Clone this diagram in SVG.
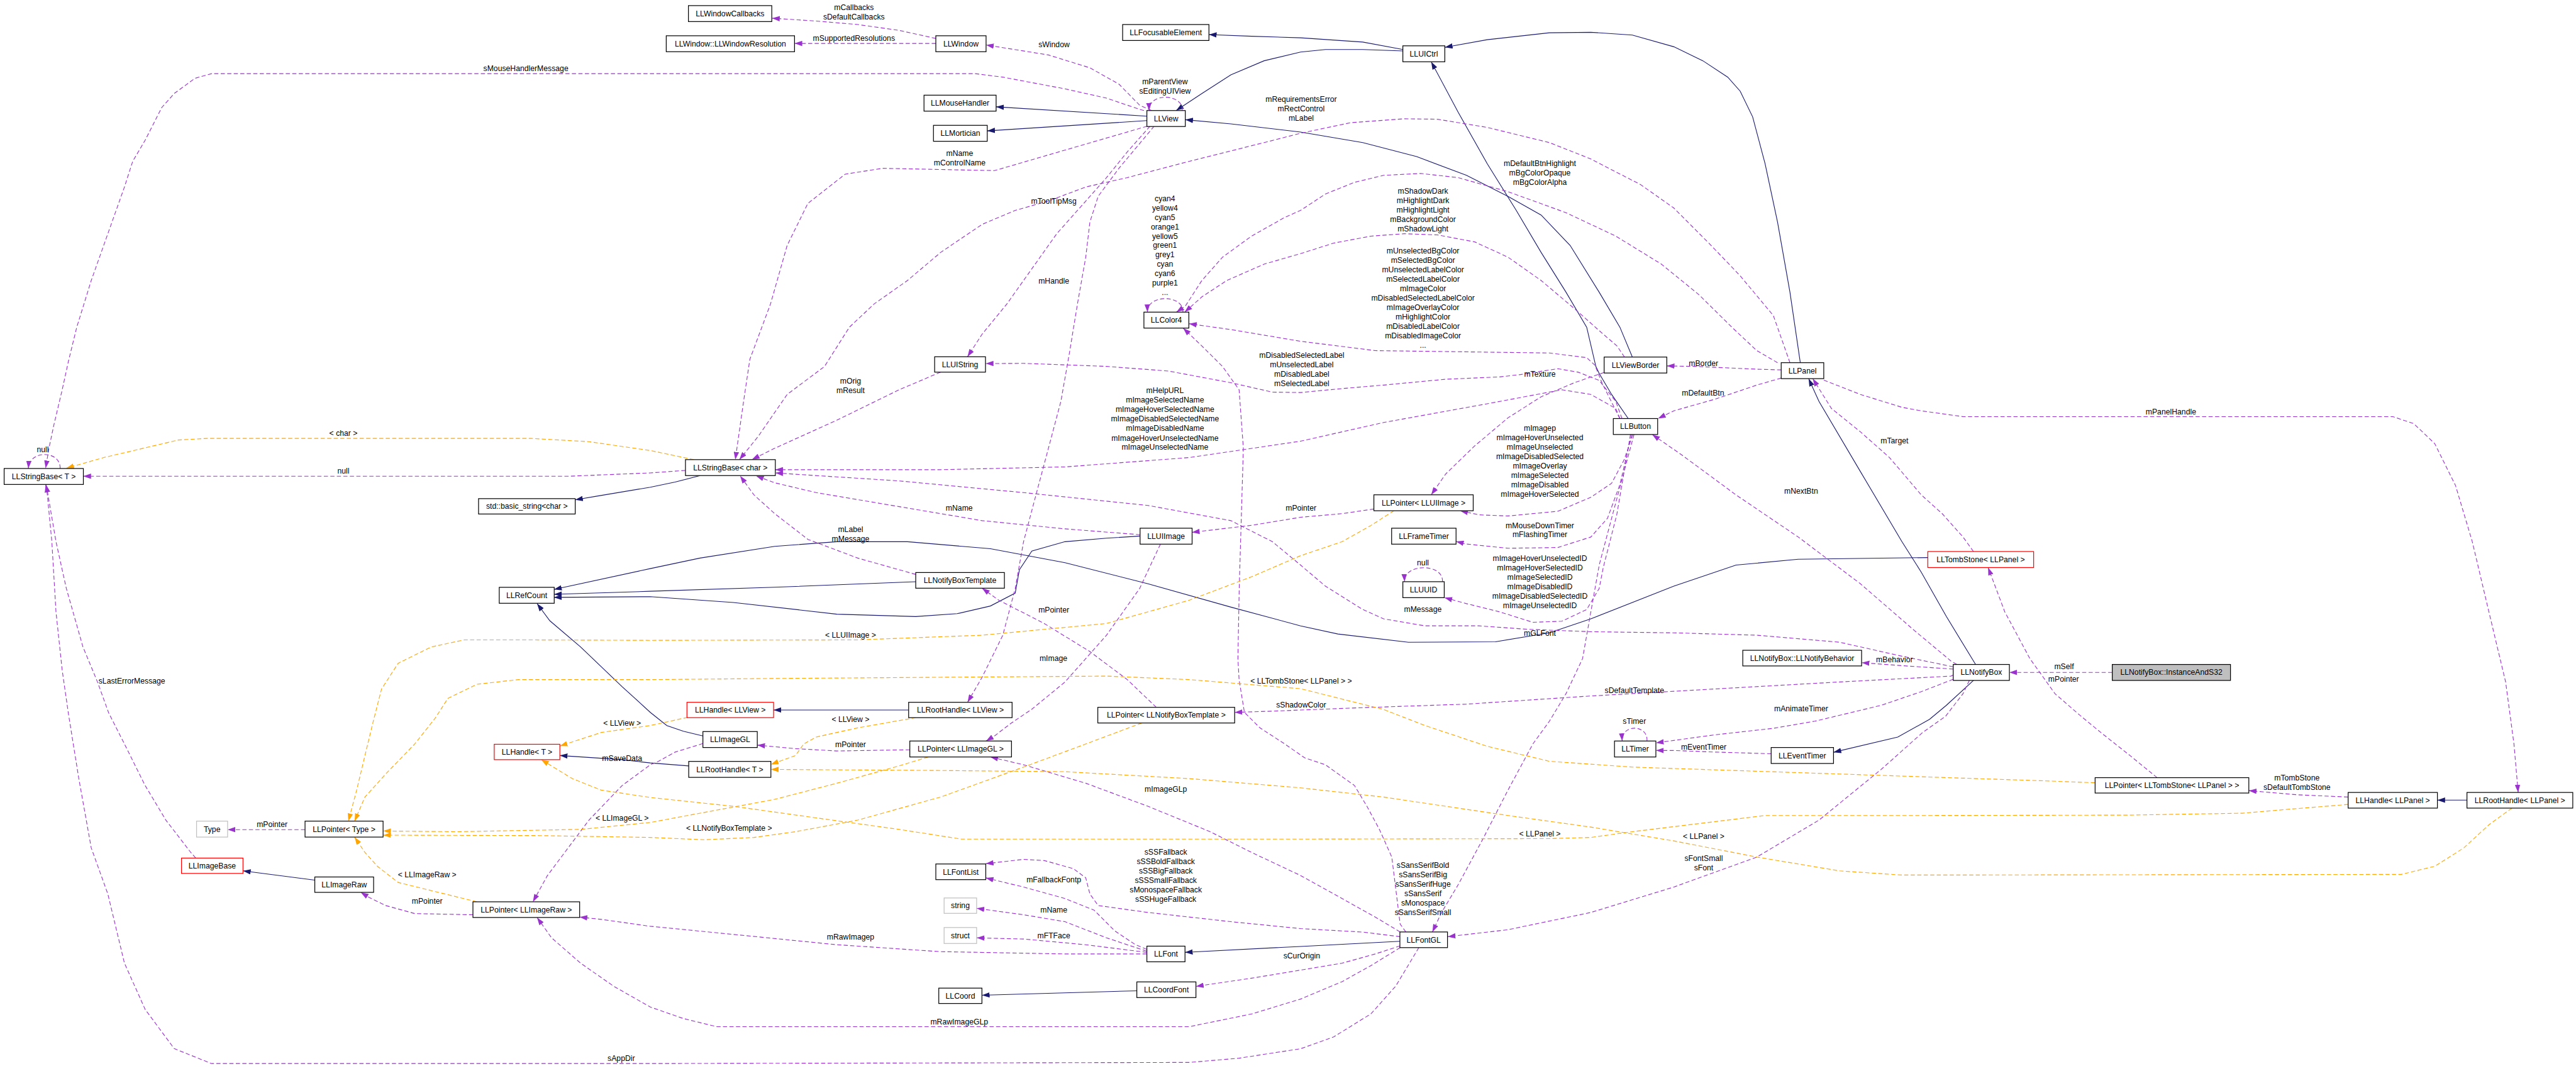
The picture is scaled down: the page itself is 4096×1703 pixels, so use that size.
<svg xmlns="http://www.w3.org/2000/svg" width="4096" height="1703" viewBox="0 0 4096 1703">
<style>
text{font-family:"Liberation Sans",Arial,sans-serif;font-size:13px;text-anchor:middle;fill:#000}
.n rect{fill:#fff;stroke:#000;stroke-width:1.3}
.n.red rect{stroke:#ff0000}
.n.gray rect{stroke:#bfbfbf}
.n.hl rect{fill:#bfbfbf}
.e path{fill:none;stroke-width:1.2}
.e .inh{stroke:#191970;marker-end:url(#an)}
.e .use{stroke:#9a32cd;stroke-dasharray:7,4;marker-end:url(#ap)}
.e .tpl{stroke:#ffa500;stroke-dasharray:7,4;marker-end:url(#ao)}
</style>
<defs>
<marker id="an" markerUnits="userSpaceOnUse" markerWidth="13" markerHeight="9" refX="13" refY="4.5" orient="auto"><path d="M0,0 L13,4.5 L0,9 Z" fill="#191970"/></marker>
<marker id="ap" markerUnits="userSpaceOnUse" markerWidth="13" markerHeight="9" refX="13" refY="4.5" orient="auto"><path d="M0,0 L13,4.5 L0,9 Z" fill="#9a32cd"/></marker>
<marker id="ao" markerUnits="userSpaceOnUse" markerWidth="13" markerHeight="9" refX="13" refY="4.5" orient="auto"><path d="M0,0 L13,4.5 L0,9 Z" fill="#ffa500"/></marker>
</defs>
<rect width="4096" height="1703" fill="#fff"/>
<g transform="scale(0.94)">
<g id="edges" class="e">
<path class="inh" d="M2373.3,83.8 L2305.2,71.2 L2200,64 L2117,61.3 L2045,58.5"/>
<path class="inh" d="M2373.3,86.2 L2305.2,83.8 L2242.1,83.8 L2200,88 L2138.3,102.8 L2082.1,126.5 L2033,158.2 L1989.5,187"/>
<path class="inh" d="M1940,196.5 L1685,180.7"/>
<path class="inh" d="M1940,204 L1670,221.4"/>
<path class="inh" d="M2761.2,604 L2740.2,553.6 L2705.1,494.3 L2656,415.2 L2606.9,363.8 L2550.8,332.1 L2480.6,296.6 L2396.4,264.9 L2305.2,241.2 L2200,223.4 L2082.1,209.6 L2005,202.5"/>
<path class="inh" d="M3045.3,613.5 L3027.8,494.3 L3006.8,375.6 L2985.7,276.8 L2964.7,197.7 L2943.6,154.2 L2922.6,130.5 L2880.5,102.8 L2831.4,79.1 L2761.2,59.3 L2691,54.6 L2620.9,55.4 L2515.7,67.2 L2444.1,80"/>
<path class="inh" d="M2754.2,708 L2726.1,667.2 L2705.1,631.6 L2699.5,620 L2684,553.6 L2649,494.3 L2606.9,427 L2564.8,355.9 L2515.7,276.8 L2466.6,189.8 L2421,104.5"/>
<path class="inh" d="M3341.8,1124 L3292.4,1042.9 L3250,968 L3217.2,916.3 L3147,797.7 L3076.9,679 L3059.4,640.5"/>
<path class="inh" d="M3338.3,1151 L3292.4,1193.1 L3264,1216.8 L3210.2,1246.8 L3101.5,1272.5"/>
<path class="inh" d="M3261.3,943.2 L3041.8,946 L2936.6,955.9 L2831.4,991.5 L2691,1046.8 L2620.9,1070.5 L2529.7,1085.6 L2382.4,1086.4 L2263.1,1072.5 L2200,1058.7 L2082.1,1027 L1941.8,987.5 L1801.5,951.9 L1675.3,928.2 L1535,916.3 L1415.7,916.3 L1310.5,924.2 L1184.2,944 L1100,961.8 L937.2,997"/>
<path class="inh" d="M1549,984 L1310.5,993.4 L1100,1000.2 L937.2,1005.3"/>
<path class="inh" d="M1928.5,906.8 L1871.7,910.4 L1801.5,916.3 L1745.4,932.1 L1724.4,963.8 L1717.3,1003.3 L1675.3,1025.1 L1619.1,1038.1 L1549,1042.9 L1415.7,1038.9 L1240.3,1019.1 L1100,1009.3 L937.2,1010.5"/>
<path class="inh" d="M1189,1245 L1156,1237 L1128,1227.3 L1100,1205 L1052.3,1161.5 L982,1094.3 L930,1050 L908.5,1021"/>
<path class="inh" d="M1184.2,804.5 L1142,815.5 L1100,824.2 L1010,839.2 L973,845.5"/>
<path class="inh" d="M1537,1201 L1308.5,1201"/>
<path class="inh" d="M1165,1295.6 L1100,1290.6 L1052,1285 L947,1278"/>
<path class="inh" d="M532.5,1488.8 L411.1,1473.2"/>
<path class="inh" d="M2368,1592.3 L2200,1601 L2012,1610.6 L2004.5,1611"/>
<path class="inh" d="M1923,1676 L1661,1683.5"/>
<path class="inh" d="M4173,1353.5 L4123,1353.5"/>

<path class="use" d="M1583,65 L1521,51.4 L1451,41.5 L1381,35.6 L1306,30.8"/>
<path class="use" d="M1583,73.5 L1344,73.5"/>
<path class="use" d="M1948,187 L1927.8,178 L1892.7,142.3 L1843.6,114.7 L1773.5,93 L1668,76"/>
<path class="use" d="M2000,187 C2002,158 1942,156 1944,187"/>
<path class="use" d="M1935,187 L1927.8,185 L1871.7,166 L1801.5,150.3 L1696.3,130.5 L1649.8,124.6 L1100,124.6 L357.8,124.6 L329.7,132.5 L294.6,158.2 L273.6,181.9 L245.5,237.2 L224.5,272.8 L210.5,316.3 L182.4,395.4 L154.3,474.5 L129.8,553.6 L115.8,610.9 L105.2,659.3 L91.2,718.6 L82.8,758.2 L77.2,792"/>
<path class="use" d="M101.7,792.5 C103,762 50,760 48,792.5"/>
<path class="use" d="M1159.5,795.7 L1100,800 L961,805.6 L141,805.6"/>
<path class="use" d="M1940.4,213.5 L1682.3,288.6 L1492.9,284.7 L1429.7,294.6 L1366.6,344 L1331.5,415.2 L1303.4,514 L1268.4,607.9 L1257.8,679.1 L1243.8,777.5"/>
<path class="use" d="M3027.8,613.5 L2999.7,533.8 L2943.6,466.6 L2894.5,415.2 L2831.4,351.9 L2775.3,312.4 L2691,268.9 L2620.9,241.2 L2515.7,215.5 L2431.5,201.7 L2375.4,200.9 L2284.2,207.6 L2200,225.4 L2138.3,241.2 L2011.9,272.8 L1906.7,300.5 L1836.6,316.3 L1773.5,340 L1717.3,355.9 L1661.2,379.6 L1591.1,427 L1535,474.5 L1478.8,514 L1436.7,553.6 L1394.6,620 L1331.5,667.2 L1282.4,738.4 L1250.8,777.5"/>
<path class="use" d="M3006.8,613.5 L2971.7,593.1 L2929.6,553.6 L2873.5,498.2 L2810.3,446.8 L2733.2,399.4 L2649,359.8 L2550.8,324.2 L2466.6,300.5 L2403.4,293.4 L2340.3,296.6 L2291.2,308.4 L2242,328.2 L2200,355.9 L2173.3,367.7 L2117,399.4 L2068,435 L2033,474.5 L2004.9,518 L1990,528"/>
<path class="use" d="M2748,604 L2735,585 L2712.1,565.4 L2663,521.9 L2606.9,474.5 L2550.8,435 L2494.6,409.2 L2431.5,397.4 L2375.4,395.4 L2319.3,399.4 L2256.1,411.2 L2200,429 L2138.3,446.8 L2075.1,474.5 L2033,502.2 L2004,528"/>
<path class="use" d="M2001,528 C2003,498 1940,497 1941,528"/>
<path class="use" d="M2740,708 L2726,680 L2710,648 L2698,618 L2684,605 L2620.9,597.1 L2326.3,593.1 L2200,577.3 L2082.1,557.5 L2011.3,547.6"/>
<path class="use" d="M2378,1576.5 L2368.4,1563 L2354.3,1449.8 L2333.3,1403 L2312.2,1363.9 L2291.2,1328.8 L2242,1293.7 L2207,1282 L2173.3,1258.5 L2131.2,1231.2 L2105,1205 L2096,1150 L2094,1114 L2096.2,995.4 L2099.7,876.8 L2103.2,758.2 L2096,659.3 L2068,620 L2033,585.2 L2001.4,555"/>
<path class="use" d="M2743.7,708 L2733.2,679.1 L2705.1,643.5 L2670,629.7 L2635,623.7 L2571.8,633.6 L2536.7,637.6 L2445.5,641.5 L2340.3,651.4 L2270.2,657.3 L2200,664 L2152.3,663.3 L2082.1,647.4 L1976.9,627.7 L1871.7,619.8 L1731.4,614.6 L1667.5,615"/>
<path class="use" d="M1591,629.5 L1520.9,659.3 L1415.7,710.7 L1310.5,758.2 L1271.9,777.5"/>
<path class="use" d="M1945.3,213.5 L1906.8,257 L1871.7,300.5 L1829.6,348 L1787.5,395.4 L1745.4,454.7 L1703.3,514 L1661.2,565.4 L1636.6,603.5"/>
<path class="use" d="M1952.3,213.5 L1892.7,284.7 L1857.6,332.1 L1843.6,375.6 L1836.6,435 L1822.6,514 L1808.5,600 L1794.5,679.1 L1773.5,758.2 L1752.4,837.2 L1731.4,916.3 L1717.3,995.4 L1696.3,1074.5 L1661.2,1145.7 L1636.7,1188"/>
<path class="use" d="M2740.2,708 L2733.2,691 L2691,667.2 L2642,659.3 L2515.7,683 L2340.3,714.7 L2200,746.3 L2011.7,774 L1801.5,789.8 L1591,794.5 L1311.5,794.5"/>
<path class="use" d="M3304,1128 L3217,1110 L3112,1086.4 L2971.7,1074.5 L2831.4,1070.5 L2691,1068.6 L2585.8,1064.6 L2501.7,1058.7 L2410.5,1058.7 L2340.3,1046.8 L2305.2,1031 L2242,991.5 L2200,955.9 L2152.3,916.3 L2082,880.7 L1941.8,855 L1731.4,833.3 L1521,813.5 L1311.5,800"/>
<path class="use" d="M1928.5,904.5 L1801.5,894.6 L1661.2,880.7 L1521,857 L1380.6,833.3 L1310.5,816.7 L1279,805"/>
<path class="use" d="M1549,971.7 L1450.8,944 L1366.6,912.4 L1310.5,868.9 L1275.4,837.2 L1252,805"/>
<path class="use" d="M2713.5,630 L2663,647.4 L2606.9,671.2 L2550.8,706.8 L2494.6,754.2 L2445.5,801.7 L2421,837"/>
<path class="use" d="M2762,735 L2747.2,778 L2726.1,817.5 L2691,841.2 L2635,864.9 L2550.8,872.8 L2501.7,870.9 L2470,864"/>
<path class="use" d="M2760,735 L2740,820 L2719.1,876.8 L2691,908.4 L2635,926.2 L2550.8,927.4 L2480.6,920.3 L2463,916"/>
<path class="use" d="M2758,735 L2735,870 L2712,960 L2705.1,995.4 L2684,1031 L2642,1050.8 L2592.9,1052.7 L2536.7,1035 L2480.6,1021.1 L2443.5,1011"/>
<path class="use" d="M2764,735 L2747.2,797.7 L2726.1,876.8 L2705.1,955.9 L2691,1035 L2677,1114 L2649,1173.3 L2620.9,1220 L2592.9,1258.5 L2550.8,1336.6 L2508.7,1418.6 L2466.6,1496.6 L2438.5,1543.5 L2423,1576.5"/>
<path class="use" d="M3013,625.7 L2971.7,624.5 L2866.4,619.8 L2819.5,619"/>
<path class="use" d="M3013,639.5 L2971.7,651.4 L2901.5,675.1 L2831.4,694.9 L2804.7,708"/>
<path class="use" d="M3338.2,933 L3320.6,908.4 L3285.3,868.9 L3250,837.2 L3196.2,774 L3147,730.5 L3098,691 L3066.4,640.5"/>
<path class="use" d="M3085,643 L3147,667.2 L3217.2,689 L3250,695 L3320.6,704.8 L4047.8,704.8 L4083,716.6 L4118.4,750.3 L4153.7,821.4 L4182,916.3 L4210.1,1035 L4238.4,1153.6 L4252.5,1258.5 L4259.6,1340.5"/>
<path class="use" d="M3310,1124 L3300,1118 L3238.3,1066.6 L3147,987.5 L3041.8,908.4 L2936.6,837.2 L2845.4,770 L2794.9,735"/>
<path class="use" d="M3304,1131.8 L3217,1126 L3149.2,1121"/>
<path class="use" d="M3304,1141.7 L3300,1143.7 L3112,1153.6 L2901.5,1165.4 L2691,1177.3 L2480.6,1191.1 L2305.2,1197.1 L2200,1201 L2152.3,1203 L2088.5,1205"/>
<path class="use" d="M3304,1149 L3250,1170 L3182.1,1193.1 L3069.9,1220 L3000,1232 L2901.5,1242.9 L2801.2,1256.6"/>
<path class="use" d="M2786,1253.5 C2788,1225 2742,1224 2744,1253.5"/>
<path class="use" d="M2996.2,1275 L2901.5,1272.2 L2831.4,1269.5 L2801.2,1269.5"/>
<path class="use" d="M3573,1137.5 L3399,1137.5"/>
<path class="use" d="M3648.9,1315.5 L3603,1278.1 L3553.6,1239 L3518.3,1210 L3476,1173.3 L3433.6,1114 L3391.2,1035 L3363,960"/>
<path class="use" d="M3972,1348.3 L3885.4,1344.4 L3804,1337.4"/>
<path class="use" d="M3331.2,1151 L3320.6,1173.3 L3291,1211.7 L3252.3,1239 L3182.1,1301.5 L3076.9,1387.3 L2971.7,1449.8 L2831.4,1500.5 L2691,1543.5 L2550.8,1572.7 L2449,1584.5"/>
<path class="use" d="M2440,984 C2442,952 2374,953 2376,984"/>
<path class="use" d="M2324,861 L2270,868.9 L2200,875 L2117.2,888.6 L2016.2,900.5"/>
<path class="use" d="M1955.9,1196.5 L1906.8,1149.6 L1843.6,1102.2 L1766.4,1054.7 L1689.3,1015.2 L1661.2,995"/>
<path class="use" d="M1962.9,920.5 L1927.8,995.4 L1871.7,1074.5 L1801.5,1153.6 L1745,1200 L1710.3,1223.4 L1682.3,1244.9 L1668,1253.5"/>
<path class="use" d="M1539,1268.3 L1415.7,1270.3 L1345.5,1266.4 L1281,1260.5"/>
<path class="use" d="M1189,1257.8 L1142,1272.2 L1114,1287.8 L1100,1293.7 L1052.3,1328.8 L996.2,1387.3 L961.1,1434.2 L926,1481 L901.5,1525.5"/>
<path class="use" d="M2368.4,1576.5 L2326.3,1551.3 L2270.2,1520 L2200,1481 L2117.2,1442 L2047,1406.9 L1941.8,1363.9 L1836.6,1324.9 L1731.4,1293.7 L1675.3,1280.5"/>
<path class="use" d="M516,1403.4 L385,1403.4"/>
<path class="use" d="M800.4,1547.4 L701.5,1545.4 L652.4,1531.8 L624.4,1518.1 L610.3,1509.5"/>
<path class="use" d="M1939.7,1613.7 L1801.5,1613.7 L1591,1609.8 L1415.7,1598.1 L1240.3,1580.6 L1100,1566.9 L1017.2,1555.2 L980.5,1551.3"/>
<path class="use" d="M2368.4,1603 L2319.3,1633.2 L2270.2,1660.6 L2200,1690 L2117.2,1715.2 L2012,1736.7 L1212.2,1736.7 L1156.1,1723 L1100,1703.5 L1038.3,1668.4 L982.1,1629.3 L933,1586.4 L908.5,1552"/>
<path class="use" d="M1939.7,1605.9 L1920.8,1598.1 L1885.7,1574.7 L1850.7,1539.6 L1801.5,1520 L1731.4,1500.5 L1667.5,1485"/>
<path class="use" d="M2368.4,1584.5 L2305.2,1576.7 L2200,1570.8 L2082.1,1559.1 L1941.8,1543.5 L1857.6,1531.8 L1843.6,1512.2 L1836.6,1484.9 L1815.5,1469.3 L1766.4,1455.7 L1731.4,1453.7 L1667.5,1461"/>
<path class="use" d="M1939.7,1609 L1871.7,1586.4 L1801.5,1559.1 L1731.4,1547.4 L1652,1536.5"/>
<path class="use" d="M1939.7,1611 L1836.6,1598.1 L1731.4,1588.4 L1652,1586.5"/>
<path class="use" d="M2368.4,1600 L2326.3,1613.7 L2270.2,1629.3 L2200,1641 L2117.2,1654.7 L2023,1668.5"/>
<path class="use" d="M2400,1603 L2361,1668 L2319,1715 L2256,1754 L2200,1774 L2096,1790 L2012,1797.2 L1100,1799.1 L357.8,1799.1 L294.6,1773.8 L245.5,1707.4 L210.5,1629.3 L182.4,1512.2 L154.3,1434.2 L133.3,1317 L115.8,1207.8 L105.2,1133.8 L94.7,1035 L87.7,916.3 L79.3,829.3 L77.2,820"/>
<path class="use" d="M331.1,1451.5 L322.7,1442 L280.6,1387.3 L245.5,1328.8 L210.5,1258.5 L183.8,1205.9 L164.9,1153.6 L140.3,1094.3 L112.2,995.4 L94.7,916.3 L80,830 L78,820"/>

<path class="tpl" d="M1173.6,777.5 L1100,762.1 L996.1,747.1 L898,741.6 L350.8,741.6 L301.7,744.3 L175.4,774 L112.2,792"/>
<path class="tpl" d="M2357.8,864 L2319.3,888.7 L2270.2,916.3 L2200,940 L2117.2,975.6 L2012,1015.2 L1871.7,1054.7 L1661.2,1074.5 L1450.8,1082.4 L1100,1083.2 L876.9,1082.4 L785.7,1082.4 L729.6,1094.3 L673.5,1122 L645.4,1165.5 L631.4,1220 L617.3,1278.1 L603.3,1336.6 L589.3,1389"/>
<path class="tpl" d="M3543.7,1324.1 L3461.8,1321 L3320.6,1316.3 L3112,1309.3 L2901.5,1302.3 L2761.2,1297.6 L2620.9,1287.8 L2515.7,1262.4 L2410.5,1227.3 L2340,1200 L2200,1165 L2012,1149.6 L1871.7,1143.7 L1591,1145.7 L1310.5,1147.7 L1100,1149.6 L876.9,1149.6 L806.8,1157.5 L757.7,1181.3 L736,1215 L701.5,1258.5 L652.4,1309.3 L617.3,1348.3 L599.8,1389"/>
<path class="tpl" d="M1931.3,1223 L1836.6,1258.5 L1731.4,1297.6 L1591,1348.3 L1450.8,1387.3 L1345.5,1406.9 L1275.4,1416.6 L1191.2,1420.5 L1100,1416.6 L912,1413.5 L648.2,1412.7"/>
<path class="tpl" d="M1570,1280.5 L1520.9,1295.6 L1415.7,1324.9 L1310.5,1352.2 L1205.2,1371.7 L1100,1391.3 L982.1,1403 L771.7,1406.9 L648.2,1405.7"/>
<path class="tpl" d="M806.8,1525.5 L736.6,1508.3 L673.5,1492.7 L638.4,1465.4 L617.3,1442 L599.8,1416"/>
<path class="tpl" d="M1549,1214 L1450.8,1231.2 L1380.6,1246.8 L1359.6,1258.5 L1345.5,1278.1 L1304,1293"/>
<path class="tpl" d="M1163,1213.5 L1100,1227.3 L1017.2,1239 L947,1262"/>
<path class="tpl" d="M3972.2,1360.8 L3885.4,1367.8 L3793.6,1375.6 L3603,1378.8 L3250,1379.5 L2985.7,1379.5 L2761.2,1406.9 L2691,1416.6 L2620.9,1418.6 L2200,1419.4 L1626.1,1419.4 L1520.9,1403 L1380.6,1383.5 L1240.3,1363.9 L1100,1349 L1017.2,1336.6 L968.1,1317.1 L915.5,1285"/>
<path class="tpl" d="M4249,1367 L4210.1,1395.2 L4167.8,1434.2 L4118.4,1465.4 L4061.9,1479.1 L3300,1480.2 L3217.2,1480.2 L3112,1473.2 L2971.7,1449.8 L2831.4,1422.5 L2691,1399.1 L2550.8,1379.5 L2340.3,1348.3 L2200,1332.7 L2012,1317.1 L1801.5,1305.4 L1591,1303.4 L1304,1301.5"/>
</g>

<g id="edge-labels">
<text x="1444.5" y="17.3">mCallbacks</text>
<text x="1444.5" y="33">sDefaultCallbacks</text>
<text x="1444.5" y="69">mSupportedResolutions</text>
<text x="1783" y="80">sWindow</text>
<text x="1970.6" y="142.9">mParentView</text>
<text x="1970.6" y="158.7">sEditingUIView</text>
<text x="889.5" y="120.4">sMouseHandlerMessage</text>
<text x="2201" y="172.5">mRequirementsError</text>
<text x="2201" y="188.4">mRectControl</text>
<text x="2201" y="204.2">mLabel</text>
<text x="1623.3" y="263.5">mName</text>
<text x="1623.3" y="279.3">mControlName</text>
<text x="1782.6" y="344.5">mToolTipMsg</text>
<text x="1782.6" y="480.2">mHandle</text>
<text x="2604.8" y="281.3">mDefaultBtnHighlight</text>
<text x="2604.8" y="297.1">mBgColorOpaque</text>
<text x="2604.8" y="312.9">mBgColorAlpha</text>
<text x="2407" y="327.5">mShadowDark</text>
<text x="2407" y="343.4">mHighlightDark</text>
<text x="2407" y="359.6">mHighlightLight</text>
<text x="2407" y="375.4">mBackgroundColor</text>
<text x="2407" y="391.2">mShadowLight</text>
<text x="2407" y="428.4">mUnselectedBgColor</text>
<text x="2407" y="444.2">mSelectedBgColor</text>
<text x="2407" y="460.4">mUnselectedLabelColor</text>
<text x="2407" y="476.2">mSelectedLabelColor</text>
<text x="2407" y="492.4">mImageColor</text>
<text x="2407" y="508.3">mDisabledSelectedLabelColor</text>
<text x="2407" y="524.5">mImageOverlayColor</text>
<text x="2407" y="540.3">mHighlightColor</text>
<text x="2407" y="556.1">mDisabledLabelColor</text>
<text x="2407" y="572.3">mDisabledImageColor</text>
<text x="2407" y="588.5">...</text>
<text x="1970.6" y="340.6">cyan4</text>
<text x="1970.6" y="356.4">yellow4</text>
<text x="1970.6" y="372.2">cyan5</text>
<text x="1970.6" y="388">orange1</text>
<text x="1970.6" y="403.8">yellow5</text>
<text x="1970.6" y="419.6">green1</text>
<text x="1970.6" y="435.4">grey1</text>
<text x="1970.6" y="451.2">cyan</text>
<text x="1970.6" y="467">cyan6</text>
<text x="1970.6" y="482.8">purple1</text>
<text x="1970.6" y="498.6">...</text>
<text x="2202" y="605.5">mDisabledSelectedLabel</text>
<text x="2202" y="621.3">mUnselectedLabel</text>
<text x="2202" y="637.1">mDisabledLabel</text>
<text x="2202" y="652.9">mSelectedLabel</text>
<text x="2604.8" y="637.3">mTexture</text>
<text x="2881.6" y="619.5">mBorder</text>
<text x="2880.7" y="669">mDefaultBtn</text>
<text x="1438.8" y="649.2">mOrig</text>
<text x="1438.8" y="665">mResult</text>
<text x="1970.6" y="665">mHelpURL</text>
<text x="1970.6" y="681.2">mImageSelectedName</text>
<text x="1970.6" y="697">mImageHoverSelectedName</text>
<text x="1970.6" y="712.8">mImageDisabledSelectedName</text>
<text x="1970.6" y="729.1">mImageDisabledName</text>
<text x="1970.6" y="745.3">mImageHoverUnselectedName</text>
<text x="1970.6" y="761.1">mImageUnselectedName</text>
<text x="2604.8" y="728.3">mImagep</text>
<text x="2604.8" y="744.5">mImageHoverUnselected</text>
<text x="2604.8" y="760.3">mImageUnselected</text>
<text x="2604.8" y="776.5">mImageDisabledSelected</text>
<text x="2604.8" y="792.3">mImageOverlay</text>
<text x="2604.8" y="808.5">mImageSelected</text>
<text x="2604.8" y="824.3">mImageDisabled</text>
<text x="2604.8" y="840.2">mImageHoverSelected</text>
<text x="3204.6" y="749.6">mTarget</text>
<text x="3672.2" y="701">mPanelHandle</text>
<text x="580.9" y="737.4">&lt; char &gt;</text>
<text x="580.9" y="801">null</text>
<text x="72.3" y="764.6">null</text>
<text x="3046.7" y="835">mNextBtn</text>
<text x="1622.6" y="864.3">mName</text>
<text x="2200.7" y="864.3">mPointer</text>
<text x="2604.8" y="893.1">mMouseDownTimer</text>
<text x="2604.8" y="909">mFlashingTimer</text>
<text x="1438.8" y="900.3">mLabel</text>
<text x="1438.8" y="916.1">mMessage</text>
<text x="2407" y="956">null</text>
<text x="2604.8" y="948.5">mImageHoverUnselectedID</text>
<text x="2604.8" y="964.5">mImageHoverSelectedID</text>
<text x="2604.8" y="980.5">mImageSelectedID</text>
<text x="2604.8" y="996.5">mImageDisabledID</text>
<text x="2604.8" y="1012.5">mImageDisabledSelectedID</text>
<text x="2604.8" y="1028.4">mImageUnselectedID</text>
<text x="2406.8" y="1035.6">mMessage</text>
<text x="1782.6" y="1036.3">mPointer</text>
<text x="2604.8" y="1075">mGLFont</text>
<text x="1438.8" y="1079">&lt; LLUIImage &gt;</text>
<text x="1781.9" y="1117.7">mImage</text>
<text x="3204.6" y="1120.5">mBehavior</text>
<text x="3491.5" y="1132.4">mSelf</text>
<text x="3490.7" y="1152.9">mPointer</text>
<text x="2201" y="1156.1">&lt; LLTombStone&lt; LLPanel &gt; &gt;</text>
<text x="2764.7" y="1172.3">sDefaultTemplate</text>
<text x="2201" y="1196.5">sShadowColor</text>
<text x="3046.7" y="1203.5">mAnimateTimer</text>
<text x="1438.8" y="1221.3">&lt; LLView &gt;</text>
<text x="1052.3" y="1227.9">&lt; LLView &gt;</text>
<text x="2764.7" y="1224.8">sTimer</text>
<text x="1438.8" y="1264.2">mPointer</text>
<text x="2881.9" y="1267.7">mEventTimer</text>
<text x="1052.3" y="1287.6">mSaveData</text>
<text x="3885.4" y="1320.4">mTombStone</text>
<text x="3885.4" y="1336.4">sDefaultTombStone</text>
<text x="1972" y="1339.2">mImageGLp</text>
<text x="1052.3" y="1388.7">&lt; LLImageGL &gt;</text>
<text x="460.2" y="1398.9">mPointer</text>
<text x="1233.3" y="1405.5">&lt; LLNotifyBoxTemplate &gt;</text>
<text x="2604.8" y="1415.3">&lt; LLPanel &gt;</text>
<text x="2881.9" y="1419.5">&lt; LLPanel &gt;</text>
<text x="1972" y="1445.3">sSSFallback</text>
<text x="1972" y="1461.3">sSSBoldFallback</text>
<text x="1972" y="1477.3">sSSBigFallback</text>
<text x="1972" y="1493.3">sSSSmallFallback</text>
<text x="1972" y="1509.3">sMonospaceFallback</text>
<text x="1972" y="1525.3">sSSHugeFallback</text>
<text x="2881.9" y="1456.2">sFontSmall</text>
<text x="2881.9" y="1472.3">sFont</text>
<text x="2407" y="1468.4">sSansSerifBold</text>
<text x="2407" y="1484.4">sSansSerifBig</text>
<text x="2407" y="1500.4">sSansSerifHuge</text>
<text x="2407" y="1516.4">sSansSerif</text>
<text x="2407" y="1532.4">sMonospace</text>
<text x="2407" y="1548.4">sSansSerifSmall</text>
<text x="722.6" y="1483.6">&lt; LLImageRaw &gt;</text>
<text x="1782.6" y="1492.2">mFallbackFontp</text>
<text x="1782.6" y="1544.1">mName</text>
<text x="722.6" y="1529.2">mPointer</text>
<text x="1782.6" y="1587.4">mFTFace</text>
<text x="1438.8" y="1589.7">mRawImagep</text>
<text x="2202" y="1621.4">sCurOrigin</text>
<text x="1622.6" y="1733.4">mRawImageGLp</text>
<text x="223.1" y="1156.1">sLastErrorMessage</text>
<text x="1050.9" y="1795">sAppDir</text>
</g>

<g id="n_LLWindowCallbacks" class="n"><rect x="1164.5" y="9.5" width="141" height="27"/><text x="1235" y="27.5">LLWindowCallbacks</text></g>
<g id="n_LLWindowResolution" class="n"><rect x="1127" y="60.5" width="217" height="27"/><text x="1235.5" y="78.5">LLWindow::LLWindowResolution</text></g>
<g id="n_LLWindow" class="n"><rect x="1583" y="60.5" width="85" height="27"/><text x="1625.5" y="78.5">LLWindow</text></g>
<g id="n_LLFocusableElement" class="n"><rect x="1899" y="41.5" width="146" height="27"/><text x="1972" y="59.5">LLFocusableElement</text></g>
<g id="n_LLMouseHandler" class="n"><rect x="1563" y="161" width="122" height="27"/><text x="1624" y="179">LLMouseHandler</text></g>
<g id="n_LLMortician" class="n"><rect x="1579" y="212" width="91" height="27"/><text x="1624.5" y="230">LLMortician</text></g>
<g id="n_LLView" class="n"><rect x="1940" y="187" width="65" height="27"/><text x="1972.5" y="205">LLView</text></g>
<g id="n_LLUICtrl" class="n"><rect x="2373" y="77.5" width="71" height="27"/><text x="2408.5" y="95.5">LLUICtrl</text></g>
<g id="n_LLColor4" class="n"><rect x="1935" y="528" width="76" height="27"/><text x="1973" y="546">LLColor4</text></g>
<g id="n_LLUIString" class="n"><rect x="1581" y="603.5" width="86" height="26"/><text x="1624" y="621">LLUIString</text></g>
<g id="n_LLViewBorder" class="n"><rect x="2713.5" y="604" width="106" height="27"/><text x="2766.5" y="622">LLViewBorder</text></g>
<g id="n_LLPanel" class="n"><rect x="3013" y="613.5" width="72" height="27"/><text x="3049" y="631.5">LLPanel</text></g>
<g id="n_LLButton" class="n"><rect x="2729" y="708" width="75" height="27"/><text x="2766.5" y="726">LLButton</text></g>
<g id="n_LLStringBaseT" class="n"><rect x="7" y="792.5" width="134" height="27"/><text x="74" y="810.5">LLStringBase&lt; T &gt;</text></g>
<g id="n_LLStringBaseChar" class="n"><rect x="1159.5" y="777.5" width="152" height="27"/><text x="1235.5" y="795.5">LLStringBase&lt; char &gt;</text></g>
<g id="n_basic_string" class="n"><rect x="809.5" y="843.5" width="163.5" height="26"/><text x="891.25" y="861">std::basic_string&lt;char &gt;</text></g>
<g id="n_LLPointerUIImage" class="n"><rect x="2324" y="837" width="168" height="27"/><text x="2408" y="855">LLPointer&lt; LLUIImage &gt;</text></g>
<g id="n_LLUIImage" class="n"><rect x="1928.5" y="893.5" width="88" height="27"/><text x="1972.5" y="911.5">LLUIImage</text></g>
<g id="n_LLFrameTimer" class="n"><rect x="2354" y="893.5" width="109" height="27"/><text x="2408.5" y="911.5">LLFrameTimer</text></g>
<g id="n_LLTombStone" class="n red"><rect x="3261" y="933" width="179" height="27"/><text x="3350.5" y="951">LLTombStone&lt; LLPanel &gt;</text></g>
<g id="n_LLNotifyBoxTemplate" class="n"><rect x="1549" y="968.5" width="150" height="26.5"/><text x="1624" y="986.3">LLNotifyBoxTemplate</text></g>
<g id="n_LLUUID" class="n"><rect x="2373" y="984" width="70" height="27"/><text x="2408" y="1002">LLUUID</text></g>
<g id="n_LLRefCount" class="n"><rect x="844.5" y="993.5" width="93" height="27"/><text x="891" y="1011.5">LLRefCount</text></g>
<g id="n_LLNotifyBehavior" class="n"><rect x="2948" y="1100" width="201" height="26.5"/><text x="3048.5" y="1117.8">LLNotifyBox::LLNotifyBehavior</text></g>
<g id="n_LLNotifyBox" class="n"><rect x="3304" y="1124" width="95" height="27"/><text x="3351.5" y="1142">LLNotifyBox</text></g>
<g id="n_InstanceAndS32" class="n hl"><rect x="3573" y="1124" width="200" height="27"/><text x="3673" y="1142">LLNotifyBox::InstanceAndS32</text></g>
<g id="n_LLHandleLLView" class="n red"><rect x="1162" y="1188" width="146.5" height="26"/><text x="1235.25" y="1205.5">LLHandle&lt; LLView &gt;</text></g>
<g id="n_LLRootHandleLLView" class="n"><rect x="1537" y="1188" width="175" height="26"/><text x="1624.5" y="1205.5">LLRootHandle&lt; LLView &gt;</text></g>
<g id="n_LLPointerNBT" class="n"><rect x="1857" y="1196.5" width="231.5" height="26.5"/><text x="1972.75" y="1214.3">LLPointer&lt; LLNotifyBoxTemplate &gt;</text></g>
<g id="n_LLImageGL" class="n"><rect x="1189" y="1237.5" width="92" height="27"/><text x="1235" y="1255.5">LLImageGL</text></g>
<g id="n_LLPointerImageGL" class="n"><rect x="1539" y="1253.5" width="172" height="27"/><text x="1625" y="1271.5">LLPointer&lt; LLImageGL &gt;</text></g>
<g id="n_LLTimer" class="n"><rect x="2731" y="1253.5" width="70" height="27"/><text x="2766" y="1271.5">LLTimer</text></g>
<g id="n_LLEventTimer" class="n"><rect x="2996" y="1264.5" width="105.5" height="27"/><text x="3048.75" y="1282.5">LLEventTimer</text></g>
<g id="n_LLHandleT" class="n red"><rect x="836" y="1259" width="111" height="26"/><text x="891.5" y="1276.5">LLHandle&lt; T &gt;</text></g>
<g id="n_LLRootHandleT" class="n"><rect x="1165" y="1288" width="139" height="27"/><text x="1234.5" y="1306">LLRootHandle&lt; T &gt;</text></g>
<g id="n_LLPointerTombStone" class="n"><rect x="3544" y="1315.5" width="260" height="26"/><text x="3674" y="1333">LLPointer&lt; LLTombStone&lt; LLPanel &gt; &gt;</text></g>
<g id="n_LLHandleLLPanel" class="n"><rect x="3972" y="1340.5" width="151" height="26.5"/><text x="4047.5" y="1358.3">LLHandle&lt; LLPanel &gt;</text></g>
<g id="n_LLRootHandleLLPanel" class="n"><rect x="4173" y="1340.5" width="179" height="26.5"/><text x="4262.5" y="1358.3">LLRootHandle&lt; LLPanel &gt;</text></g>
<g id="n_Type" class="n gray"><rect x="332.5" y="1389" width="52.5" height="27"/><text x="358.75" y="1407">Type</text></g>
<g id="n_LLPointerType" class="n"><rect x="516" y="1389" width="132" height="27"/><text x="582" y="1407">LLPointer&lt; Type &gt;</text></g>
<g id="n_LLImageBase" class="n red"><rect x="307" y="1451.5" width="104" height="26"/><text x="359" y="1469">LLImageBase</text></g>
<g id="n_LLImageRaw" class="n"><rect x="532.5" y="1483.5" width="99.5" height="26"/><text x="582.25" y="1501">LLImageRaw</text></g>
<g id="n_LLPointerImageRaw" class="n"><rect x="800" y="1525.5" width="180.5" height="26.5"/><text x="890.25" y="1543.3">LLPointer&lt; LLImageRaw &gt;</text></g>
<g id="n_LLFontList" class="n"><rect x="1583" y="1461.5" width="84.5" height="26.5"/><text x="1625.25" y="1479.3">LLFontList</text></g>
<g id="n_string" class="n gray"><rect x="1597" y="1519" width="55" height="26"/><text x="1624.5" y="1536.5">string</text></g>
<g id="n_struct" class="n gray"><rect x="1597" y="1569" width="55" height="27"/><text x="1624.5" y="1587">struct</text></g>
<g id="n_LLFont" class="n"><rect x="1940" y="1600.5" width="64.5" height="26.5"/><text x="1972.25" y="1618.3">LLFont</text></g>
<g id="n_LLFontGL" class="n"><rect x="2368" y="1576.5" width="80.5" height="26.5"/><text x="2408.25" y="1594.3">LLFontGL</text></g>
<g id="n_LLCoordFont" class="n"><rect x="1923" y="1661" width="100" height="26.5"/><text x="1973" y="1678.8">LLCoordFont</text></g>
<g id="n_LLCoord" class="n"><rect x="1588" y="1671.5" width="73" height="26"/><text x="1624.5" y="1689">LLCoord</text></g>
</g>
</svg>
